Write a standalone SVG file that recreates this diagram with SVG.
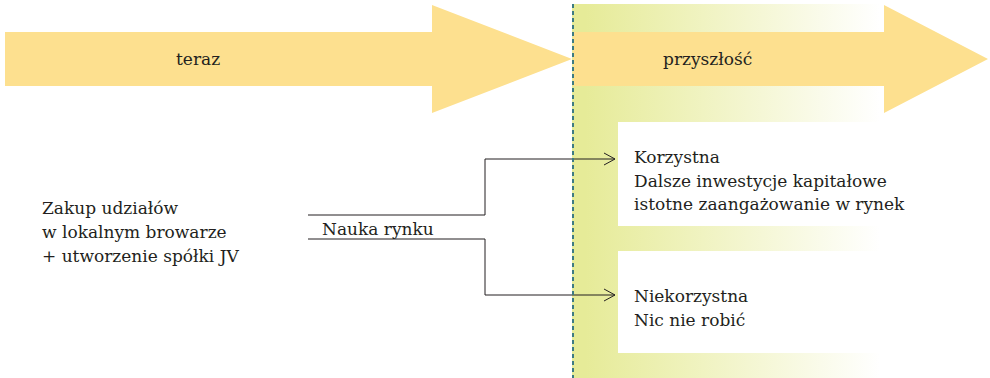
<svg xmlns="http://www.w3.org/2000/svg" width="990" height="378" viewBox="0 0 990 378">
<defs>
<linearGradient id="g" gradientUnits="userSpaceOnUse" x1="585" y1="0" x2="880" y2="0">
<stop offset="0" stop-color="#e6eb98"/>
<stop offset="1" stop-color="#ffffff"/>
</linearGradient>
<marker id="ah" markerWidth="14" markerHeight="14" refX="12" refY="7" orient="auto" markerUnits="userSpaceOnUse">
<path d="M1,1 L12,7 L1,13" fill="none" stroke="#231f20" stroke-width="1"/>
</marker>
<style>
.arrow{fill:#fde08f}
.conn{fill:none;stroke:#231f20;stroke-width:1}
</style>
</defs>
<g font-family="'DejaVu Serif', 'Liberation Serif', serif" font-size="17" fill="#231f20">
<g id="future-zone">
<rect x="572" y="4" width="418" height="374" fill="url(#g)"/>
</g>
<g id="arrow-teraz">
<polygon class="arrow" points="5,32 432,32 432,5 572,59 432,113 432,86 5,86"/>
<text x="176" y="65">teraz</text>
</g>
<g id="arrow-przyszlosc">
<polygon class="arrow" points="573,32 884,32 884,5 988,59 884,113 884,86 573,86"/>
<text x="663" y="65">przyszłość</text>
</g>
<g id="box-korzystna">
<rect x="618" y="122" width="372" height="104" fill="#ffffff"/>
<text x="634" y="163">Korzystna</text>
<text x="634" y="187">Dalsze inwestycje kapitałowe</text>
<text x="634" y="210">istotne zaangażowanie w rynek</text>
</g>
<g id="box-niekorzystna">
<rect x="618" y="251" width="372" height="102" fill="#ffffff"/>
<text x="634" y="302">Niekorzystna</text>
<text x="634" y="326">Nic nie robić</text>
</g>
<g id="start">
<text x="42" y="214">Zakup udziałów</text>
<text x="42" y="238">w lokalnym browarze</text>
<text x="42" y="262">+ utworzenie spółki JV</text>
</g>
<g id="connectors">
<path class="conn" d="M308,215 H485 V159 H615" marker-end="url(#ah)"/>
<path class="conn" d="M308,239 H485 V295 H615" marker-end="url(#ah)"/>
<text x="322" y="235">Nauka rynku</text>
</g>
<g id="divider">
<line x1="573" y1="4" x2="573" y2="378" stroke="#3d7b82" stroke-width="2" stroke-dasharray="4,3"/>
</g>
</g>
</svg>
